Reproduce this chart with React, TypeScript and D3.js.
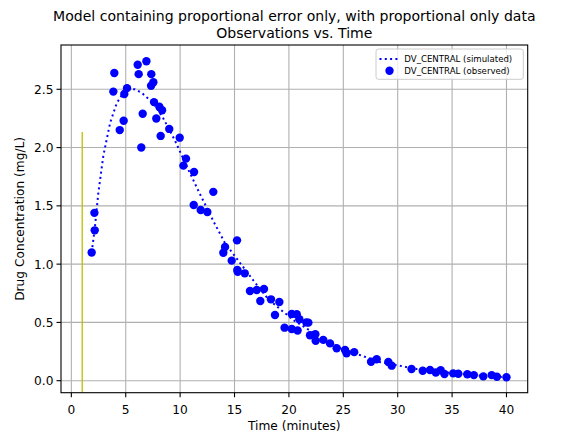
import React from "react";
import * as d3 from "d3";

// Observed concentrations
const obsTime = [
  1.87, 2.12, 2.15, 3.86, 3.95, 4.45, 4.81, 4.87, 5.12, 6.1, 6.19, 6.43, 6.56, 6.9,
  7.33, 7.35, 7.54, 7.6, 7.81, 8.09, 8.21, 8.34, 9.0, 9.96, 10.3, 10.54, 11.28, 11.25,
  11.89, 12.5, 13.05, 13.97, 14.13, 14.74, 15.23, 15.26, 15.29, 15.94, 16.42, 17.04,
  17.71, 17.37, 18.35, 18.72, 19.12, 19.6, 20.26, 20.26, 20.72, 20.8, 20.96, 21.6,
  21.79, 21.94, 22.43, 22.46, 23.16, 23.78, 24.39, 25.16, 25.3, 26.0, 27.55, 28.07,
  29.14, 29.45, 31.27, 32.3, 32.97, 33.5, 33.95, 34.3, 35.1, 35.57, 36.4, 37.0, 37.87,
  38.64, 39.12, 40.0,
];
const obsConc = [
  1.1, 1.44, 1.29, 2.48, 2.64, 2.15, 2.23, 2.46, 2.51, 2.71, 2.63, 2.0, 2.29, 2.74,
  2.53, 2.63, 2.56, 2.39, 2.25, 2.35, 2.1, 2.32, 2.16, 2.085, 1.845, 1.905, 1.79, 1.507,
  1.464, 1.447, 1.62, 1.098, 1.147, 1.03, 1.204, 0.95, 0.935, 0.921, 0.77, 0.778,
  0.787, 0.684, 0.698, 0.564, 0.675, 0.455, 0.572, 0.443, 0.57, 0.43, 0.527, 0.5,
  0.498, 0.39, 0.398, 0.343, 0.35, 0.32, 0.278, 0.263, 0.235, 0.245, 0.163, 0.184,
  0.16, 0.129, 0.1, 0.085, 0.092, 0.07, 0.09, 0.057, 0.063, 0.06, 0.055, 0.048, 0.037,
  0.048, 0.034, 0.029,
];

// Simulated concentration profile
const simTime = [
  1.87, 2.15, 2.48, 2.94, 3.56, 4.17, 4.78, 5.3, 5.85, 6.47, 7.54, 8.46, 9.53, 10.6,
  11.83, 13.05, 14.13, 15.35, 16.73, 18.1, 19.49, 20.56, 21.6, 23.16, 24.7, 26.84,
  28.37, 30.37, 31.75, 33.5, 35.5, 37.5, 40.0,
];
const simConc = [
  1.1, 1.3, 1.61, 1.93, 2.21, 2.38, 2.47, 2.5, 2.5, 2.47, 2.38, 2.25, 2.06, 1.84,
  1.6, 1.37, 1.18, 1.03, 0.86, 0.7, 0.59, 0.51, 0.45, 0.36, 0.28, 0.21, 0.16, 0.125,
  0.1, 0.08, 0.06, 0.045, 0.03,
];

const dosingTime = 1;
const xTicks = [0, 5, 10, 15, 20, 25, 30, 35, 40];
const yTicks = [0, 0.5, 1.0, 1.5, 2.0, 2.5];

const W = 563;
const H = 435;
const M = { left: 61, right: 527.7, top: 45, bottom: 392.7 };
const FONT = "DejaVu Sans, sans-serif";

export default function App() {
  const x = d3.scaleLinear().domain([-0.95, 41.95]).range([M.left, M.right]);
  const y = d3.scaleLinear().domain([-0.103, 2.88]).range([M.bottom, M.top]);
  const simLine = d3
    .line<number>()
    .x((_, i) => x(simTime[i]))
    .y((d) => y(d))
    .curve(d3.curveLinear)(simConc);

  const plotH = M.bottom - M.top;

  return (
    <svg
      width={W}
      height={H}
      style={{ position: "absolute", left: 0, top: 0, fontFamily: FONT }}
    >
      <rect x={0} y={0} width={W} height={H} fill="#fff" />
      <text x={294.3} y={21} textAnchor="middle" fontSize={14.05} fill="#000">
        Model containing proportional error only, with proportional only data
      </text>
      <text x={294.3} y={38} textAnchor="middle" fontSize={14.05} fill="#000">
        Observations vs. Time
      </text>

      <defs>
        <clipPath id="plotArea">
          <rect x={M.left} y={M.top} width={M.right - M.left} height={plotH} />
        </clipPath>
      </defs>

      {/* grid */}
      {xTicks.map((t) => (
        <line
          key={"gx" + t}
          x1={x(t)}
          x2={x(t)}
          y1={M.top}
          y2={M.bottom}
          stroke="#b0b0b0"
          strokeWidth={1.1}
        />
      ))}
      {yTicks.map((t) => (
        <line
          key={"gy" + t}
          x1={M.left}
          x2={M.right}
          y1={y(t)}
          y2={y(t)}
          stroke="#b0b0b0"
          strokeWidth={1.1}
        />
      ))}

      {/* dosing marker */}
      <line
        x1={x(dosingTime)}
        x2={x(dosingTime)}
        y1={M.bottom}
        y2={M.bottom - 0.75 * plotH}
        stroke="#bfbf00"
        strokeWidth={1.3}
      />

      <g clipPath="url(#plotArea)">
        <path
          d={simLine ?? ""}
          fill="none"
          stroke="#0000ff"
          strokeWidth={2}
          strokeDasharray="2 3.3"
        />
        {obsConc.map((c, i) => (
          <circle key={i} cx={x(obsTime[i])} cy={y(c)} r={4.2} fill="#0000ff" />
        ))}
      </g>

      {/* frame */}
      <rect
        x={M.left}
        y={M.top}
        width={M.right - M.left}
        height={plotH}
        fill="none"
        stroke="#000"
        strokeWidth={1.1}
      />

      {/* x axis */}
      {xTicks.map((t) => (
        <g key={"xt" + t}>
          <line x1={x(t)} x2={x(t)} y1={M.bottom} y2={M.bottom + 4.5} stroke="#000" strokeWidth={1.1} />
          <text x={x(t)} y={414} textAnchor="middle" fontSize={12.2} fill="#000">
            {t}
          </text>
        </g>
      ))}
      <text x={294.3} y={430} textAnchor="middle" fontSize={12.2} fill="#000">
        Time (minutes)
      </text>

      {/* y axis */}
      {yTicks.map((t) => (
        <g key={"yt" + t}>
          <line x1={M.left - 4.5} x2={M.left} y1={y(t)} y2={y(t)} stroke="#000" strokeWidth={1.1} />
          <text
            x={M.left - 7.5}
            y={y(t)}
            dy="0.36em"
            textAnchor="end"
            fontSize={12.2}
            fill="#000"
          >
            {t.toFixed(1)}
          </text>
        </g>
      ))}
      <text
        transform={`translate(23.5, ${(M.top + M.bottom) / 2}) rotate(-90)`}
        textAnchor="middle"
        fontSize={12.2}
        fill="#000"
      >
        Drug Concentration (mg/L)
      </text>

      {/* legend */}
      <g>
        <rect
          x={376}
          y={49}
          width={147.3}
          height={30.3}
          rx={2.5}
          fill="#fff"
          fillOpacity={0.8}
          stroke="#cccccc"
          strokeWidth={1}
        />
        <line
          x1={379.5}
          x2={400.5}
          y1={59}
          y2={59}
          stroke="#0000ff"
          strokeWidth={2}
          strokeDasharray="2 3.3"
        />
        <text x={404.3} y={62} fontSize={8.6} fill="#000">
          DV_CENTRAL (simulated)
        </text>
        <circle cx={389.5} cy={70.7} r={4.2} fill="#0000ff" />
        <text x={404.3} y={73.6} fontSize={8.6} fill="#000">
          DV_CENTRAL (observed)
        </text>
      </g>
    </svg>
  );
}
